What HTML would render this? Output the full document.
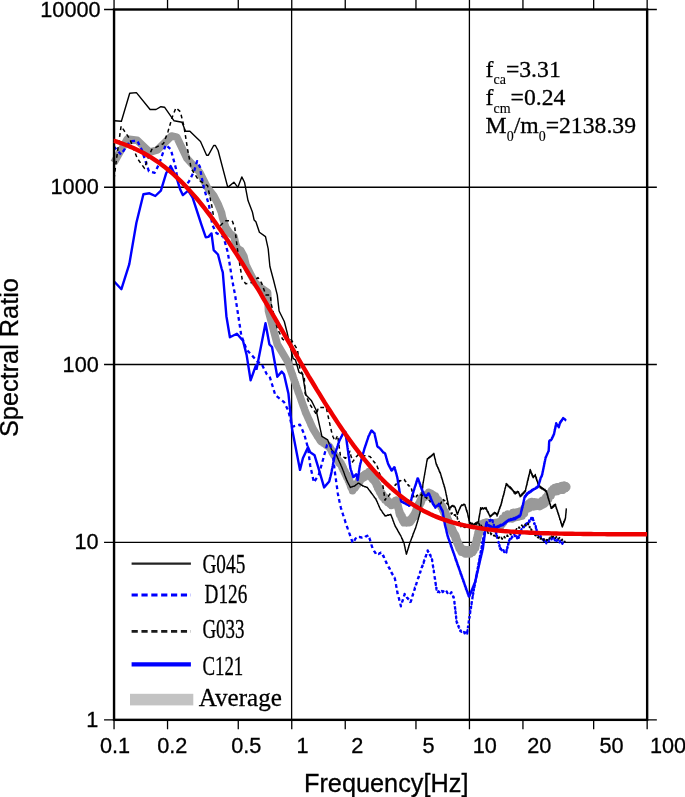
<!DOCTYPE html>
<html><head><meta charset="utf-8"><title>Spectral Ratio</title>
<style>html,body{margin:0;padding:0;background:#fff}svg{display:block}.h{font-family:"Liberation Sans",Arial,Helvetica,sans-serif;fill:#000;stroke:#000;stroke-width:0.3px}.t{font-family:"Liberation Serif","Times New Roman",Times,serif;fill:#000;stroke:#000;stroke-width:0.3px}</style></head><body>
<svg width="685" height="797" viewBox="0 0 685 797">
<rect width="685" height="797" fill="#fff"/>
<path d="M291.62 9.50 V719.85 M469.40 9.50 V719.85 M114.05 187.25 H647.15 M114.05 364.50 H647.15 M114.05 542.35 H647.15" stroke="#000" stroke-width="1.3" fill="none"/>
<path d="M114.05 719.85 V729.35 M114.05 9.50 V-0.50 M167.54 719.85 V729.35 M167.54 9.50 V-0.50 M238.26 719.85 V729.35 M238.26 9.50 V-0.50 M291.75 719.85 V729.35 M291.75 9.50 V-0.50 M345.24 719.85 V729.35 M345.24 9.50 V-0.50 M415.96 719.85 V729.35 M415.96 9.50 V-0.50 M469.45 719.85 V729.35 M469.45 9.50 V-0.50 M522.94 719.85 V729.35 M522.94 9.50 V-0.50 M593.66 719.85 V729.35 M593.66 9.50 V-0.50 M647.15 719.85 V729.35 M647.15 9.50 V-0.50 M114.05 9.50 H104.05 M647.15 9.50 H656.85 M114.05 187.25 H104.05 M647.15 187.25 H656.85 M114.05 364.50 H104.05 M647.15 364.50 H656.85 M114.05 542.35 H104.05 M647.15 542.35 H656.85 M114.05 719.85 H104.05 M647.15 719.85 H656.85" stroke="#000" stroke-width="1.3" fill="none"/>
<g fill="none" stroke-linejoin="round">
<path d="M114.0 162.6 L127.3 139.0 L137.2 140.3 L149.8 152.2 L157.6 149.8 L171.5 136.0 L176.8 137.1 L186.8 158.2 L199.6 172.2 L207.3 187.5 L213.6 195.5 L218.0 204.0 L221.5 212.6 L222.5 217.5 L225.8 227.5 L230.0 233.5 L234.0 236.5 L235.8 244.5 L237.5 248.5 L240.8 250.5 L243.8 256.0 L246.0 265.0 L251.0 275.2 L255.0 282.5 L261.0 288.0 L267.6 292.5 L268.5 311.0 L277.3 344.3 L287.8 361.9 L288.0 362.5 L288.2 363.0 L288.4 363.6 L288.6 364.2 L288.8 364.7 L289.0 365.3 L289.2 365.9 L289.4 366.5 L289.6 367.0 L289.8 367.6 L290.0 368.2 L290.2 368.7 L290.4 369.3 L290.6 369.9 L290.8 370.5 L291.0 371.0 L291.2 371.6 L291.4 372.1 L291.6 372.7 L291.8 373.3 L292.0 373.9 L292.2 374.4 L292.4 375.0 L292.6 375.5 L292.8 376.2 L293.0 376.7 L293.2 377.3 L293.4 377.8 L293.6 378.5 L293.8 378.9 L294.0 379.6 L294.2 380.1 L294.4 380.7 L294.6 381.2 L294.8 381.9 L295.0 382.4 L295.2 383.0 L295.4 383.5 L295.6 384.2 L295.8 384.6 L296.0 385.3 L296.2 385.8 L296.4 386.4 L296.6 386.9 L296.8 387.6 L297.0 388.1 L297.2 388.7 L297.4 389.2 L297.6 389.9 L297.8 390.4 L298.0 391.1 L298.2 391.5 L298.4 392.3 L298.6 392.7 L298.9 393.4 L299.1 393.8 L299.3 394.6 L299.5 394.9 L299.7 395.7 L299.9 396.1 L300.1 396.9 L300.3 397.3 L300.5 398.0 L300.7 398.4 L300.9 399.2 L301.1 399.5 L301.3 400.3 L301.5 400.7 L301.7 401.5 L301.9 401.8 L302.1 402.6 L302.3 403.0 L302.5 403.8 L302.7 404.1 L302.9 405.0 L303.1 405.3 L303.3 406.1 L303.6 406.4 L303.8 407.3 L304.0 407.6 L304.2 408.4 L304.4 408.7 L304.6 409.5 L304.8 409.9 L305.0 410.8 L305.2 411.0 L305.4 411.9 L305.6 412.2 L305.8 413.0 L306.1 413.3 L306.3 414.2 L306.6 414.4 L306.8 415.3 L307.1 415.5 L307.3 416.3 L307.6 416.6 L307.8 417.6 L308.1 417.7 L308.3 418.6 L308.6 418.9 L308.8 419.7 L309.1 419.9 L309.3 420.8 L309.6 421.0 L309.8 422.0 L310.1 422.1 L310.3 423.1 L310.6 423.2 L310.8 424.2 L311.1 424.4 L311.3 425.3 L311.6 425.6 L311.8 426.5 L312.1 426.6 L312.3 427.5 L312.6 427.7 L312.8 428.6 L313.1 428.8 L313.4 429.7 L313.8 429.8 L314.1 430.8 L314.4 430.9 L314.8 431.9 L315.1 432.1 L315.4 432.9 L315.8 433.1 L316.1 434.0 L316.4 434.0 L316.8 435.2 L317.1 435.1 L317.4 436.2 L317.7 436.3 L318.1 437.3 L318.4 437.2 L318.7 438.2 L319.1 438.4 L319.4 439.2 L319.7 439.3 L320.1 440.4 L320.4 440.5 L320.9 441.4 L321.4 441.1 L322.0 441.9 L322.5 441.8 L323.0 442.8 L323.5 442.5 L324.0 443.4 L324.5 442.9 L325.1 444.2 L325.6 443.8 L326.1 444.9 L326.6 444.5 L327.1 445.6 L327.6 445.0 L328.2 446.2 L328.7 445.8 L329.2 447.3 L329.5 446.5 L329.8 447.9 L330.1 447.4 L330.5 449.3 L330.8 448.8 L331.1 449.9 L331.4 449.7 L331.7 451.4 L332.0 450.8 L332.3 452.5 L332.7 451.5 L333.0 453.4 L333.3 452.8 L333.6 454.8 L334.0 453.4 L334.3 455.5 L334.7 454.8 L335.1 456.7 L335.4 455.7 L335.8 457.7 L336.2 456.7 L336.5 458.7 L336.9 457.9 L337.2 459.5 L337.6 458.3 L338.0 461.0 L338.3 459.8 L338.7 462.1 L339.1 460.8 L339.4 463.2 L339.8 461.4 L340.2 463.8 L340.5 462.8 L340.9 464.5 L341.2 463.3 L341.4 465.6 L341.7 464.4 L342.0 467.5 L342.3 465.7 L342.5 467.9 L342.8 466.5 L343.1 469.7 L343.3 467.7 L343.6 470.4 L343.9 469.1 L344.1 471.3 L344.4 470.3 L344.7 472.7 L345.0 471.2 L345.2 473.4 L345.5 472.6 L345.8 474.9 L346.0 473.5 L346.3 475.8 L346.6 474.5 L346.8 477.3 L347.1 475.0 L347.4 477.5 L347.7 476.8 L347.9 478.9 L348.2 477.1 L348.4 480.5 L348.7 478.9 L348.9 481.1 L349.1 479.7 L349.4 482.9 L349.6 480.6 L349.8 483.5 L350.1 481.8 L350.3 485.0 L350.5 483.4 L350.7 486.5 L351.0 484.8 L351.2 487.4 L351.4 486.1 L351.7 488.0 L351.9 486.4 L352.1 489.2 L352.4 487.7 L352.6 490.7 L353.0 487.7 L353.4 489.6 L353.7 487.3 L354.1 488.5 L354.5 485.8 L354.9 487.9 L355.2 484.7 L355.6 487.2 L356.0 484.6 L356.4 485.9 L356.8 483.7 L357.1 484.4 L357.5 482.8 L357.9 484.3 L358.3 481.1 L358.7 483.3 L359.0 480.6 L359.4 482.2 L359.8 479.2 L360.2 481.0 L360.5 478.4 L360.9 479.9 L361.3 478.0 L361.8 479.0 L362.3 476.3 L362.8 478.6 L363.2 475.5 L363.7 477.7 L364.2 475.4 L364.7 477.3 L365.2 474.1 L365.7 475.7 L366.2 473.5 L366.7 475.0 L367.1 473.3 L367.6 475.1 L368.1 472.6 L368.6 473.6 L369.0 471.7 L369.4 474.8 L369.8 473.6 L370.2 475.5 L370.6 474.4 L371.0 477.1 L371.4 475.5 L371.7 478.2 L372.1 476.2 L372.5 479.3 L372.9 476.6 L373.3 479.5 L373.7 478.3 L374.1 480.7 L374.5 479.4 L374.8 481.9 L375.0 480.6 L375.3 482.3 L375.6 480.6 L375.9 483.7 L376.1 482.1 L376.4 485.0 L376.7 483.5 L376.9 485.6 L377.2 483.9 L377.5 487.7 L377.7 484.9 L378.0 487.8 L378.3 486.8 L378.6 489.5 L378.8 487.1 L379.1 490.5 L379.4 488.5 L379.6 491.7 L379.9 490.0 L380.2 492.6 L380.4 491.1 L380.7 493.4 L381.0 492.4 L381.3 494.5 L381.5 492.5 L381.8 495.8 L382.2 493.8 L382.6 496.9 L383.0 494.4 L383.4 497.6 L383.8 496.1 L384.2 498.4 L384.6 497.0 L385.0 499.9 L385.4 497.2 L385.9 500.2 L386.3 498.8 L386.8 501.4 L387.2 499.4 L387.7 502.4 L388.1 500.6 L388.6 502.6 L389.0 501.5 L389.5 503.6 L389.9 502.1 L390.4 504.4 L390.8 503.5 L391.4 505.3 L392.0 502.8 L392.6 505.0 L393.2 502.1 L393.8 504.6 L394.3 502.0 L394.9 503.7 L395.5 500.7 L396.1 502.8 L396.7 500.1 L396.9 503.2 L397.0 501.5 L397.2 505.3 L397.3 502.6 L397.5 505.7 L397.6 504.6 L397.8 507.1 L397.9 504.8 L398.1 508.1 L398.2 506.0 L398.4 509.1 L398.5 507.2 L398.7 510.1 L398.8 509.1 L399.0 512.3 L399.1 509.7 L399.3 513.5 L399.4 510.8 L399.6 514.5 L399.9 512.1 L400.2 514.9 L400.4 513.5 L400.7 516.0 L401.0 514.3 L401.2 517.7 L401.5 515.9 L401.8 518.1 L402.1 516.2 L402.4 520.1 L402.6 517.8 L402.9 520.9 L403.2 518.5 L403.4 521.9 L403.7 520.1 L404.0 522.8 L404.6 520.9 L405.3 522.5 L405.9 520.4 L406.6 522.9 L407.2 520.5 L407.9 522.5 L408.5 520.7 L409.2 522.6 L409.8 521.0 L410.2 522.3 L410.5 519.2 L410.9 521.4 L411.3 518.7 L411.6 520.7 L412.0 517.9 L412.4 519.0 L412.7 516.6 L413.1 518.6 L413.5 515.5 L413.8 517.6 L414.2 514.4 L414.4 516.9 L414.7 513.8 L414.9 515.4 L415.2 512.4 L415.4 514.0 L415.7 511.3 L415.9 513.3 L416.2 509.6 L416.4 512.6 L416.6 509.2 L416.9 511.1 L417.1 508.4 L417.4 509.3 L417.6 506.7 L417.9 509.1 L418.1 506.0 L418.4 507.9 L418.6 504.0 L418.9 506.2 L419.2 503.1 L419.4 505.7 L419.7 502.4 L420.0 504.5 L420.2 500.8 L420.5 503.2 L420.8 499.6 L421.1 502.5 L421.4 498.4 L421.6 501.0 L421.9 498.2 L422.2 499.5 L422.4 497.1 L422.7 498.8 L423.0 495.3 L423.6 497.3 L424.2 494.8 L424.7 497.6 L425.3 494.6 L425.9 496.8 L426.5 494.3 L427.1 496.4 L427.6 493.9 L428.2 496.2 L428.8 492.3 L429.4 495.7 L430.0 493.6 L430.5 496.7 L431.1 493.3 L431.7 496.3 L432.3 494.1 L432.9 497.8 L433.4 494.8 L434.0 498.2 L434.6 495.7 L435.0 499.2 L435.4 496.0 L435.8 499.5 L436.2 497.2 L436.6 500.6 L437.0 498.9 L437.4 501.4 L437.7 500.0 L438.1 503.1 L438.5 499.9 L438.9 503.1 L439.3 501.3 L439.7 504.4 L440.1 502.9 L440.5 505.3 L440.8 503.8 L441.1 507.0 L441.3 505.2 L441.6 507.4 L441.9 505.7 L442.2 508.3 L442.4 506.6 L442.7 510.1 L443.0 507.5 L443.3 510.7 L443.5 509.3 L443.8 512.3 L444.1 510.4 L444.4 513.4 L444.6 511.5 L444.9 514.7 L445.2 512.0 L445.5 516.0 L445.7 512.8 L446.0 516.7 L446.3 514.6 L446.5 518.3 L446.7 515.4 L447.0 519.1 L447.2 517.0 L447.4 519.9 L447.6 518.6 L447.8 521.7 L448.1 519.7 L448.3 522.8 L448.5 520.3 L448.7 524.3 L448.9 521.2 L449.2 525.5 L449.4 523.2 L449.6 526.0 L449.8 523.8 L450.0 527.0 L450.3 525.1 L450.5 528.2 L450.7 526.2 L451.0 528.9 L451.3 527.4 L451.6 530.6 L451.9 528.7 L452.2 531.6 L452.5 529.2 L452.8 533.2 L453.0 530.7 L453.3 534.2 L453.6 532.0 L453.9 534.8 L454.2 533.6 L454.5 536.0 L454.8 533.9 L455.1 537.9 L455.3 534.7 L455.5 538.6 L455.7 535.6 L456.0 539.6 L456.2 536.9 L456.4 540.7 L456.6 538.2 L456.8 542.6 L457.0 539.9 L457.2 542.6 L457.4 540.6 L457.6 544.2 L457.9 542.1 L458.1 544.6 L458.3 543.1 L458.5 546.4 L458.8 544.2 L459.1 548.1 L459.4 545.1 L459.7 549.0 L460.0 545.7 L460.3 550.1 L460.6 547.4 L460.9 551.3 L461.2 548.2 L461.5 552.2 L462.1 549.0 L462.8 552.3 L463.4 549.4 L464.1 553.1 L464.7 549.4 L465.4 553.8 L466.0 549.9 L466.6 553.9 L467.2 549.8 L467.8 553.6 L468.4 550.4 L469.0 553.0 L469.6 549.8 L470.2 553.9 L470.8 549.9 L471.4 552.6 L472.0 549.3 L472.4 552.6 L472.7 548.8 L473.1 550.8 L473.4 547.6 L473.8 550.8 L474.1 546.6 L474.4 549.1 L474.8 545.2 L475.1 547.5 L475.5 544.3 L475.6 547.8 L475.8 542.8 L475.9 545.7 L476.1 541.5 L476.2 544.8 L476.3 541.1 L476.5 542.9 L476.6 538.8 L476.8 541.8 L476.9 538.9 L477.0 541.5 L477.2 536.9 L477.3 539.6 L477.4 535.7 L477.6 538.9 L477.7 535.0 L477.9 537.6 L478.0 532.9 L478.2 536.7 L478.4 532.5 L478.6 535.1 L478.8 531.3 L479.0 533.8 L479.2 530.2 L479.4 533.0 L479.6 527.8 L479.8 531.1 L480.0 527.7 L480.2 530.9 L480.4 525.7 L480.6 529.5 L480.8 525.6 L481.0 528.4 L481.6 523.8 L482.2 527.1 L482.8 523.8 L483.5 527.6 L484.1 522.8 L484.7 526.2 L485.3 522.8 L485.9 526.1 L486.6 522.2 L487.2 526.7 L487.9 522.4 L488.5 527.4 L489.1 523.1 L489.8 526.7 L490.4 523.3 L491.1 526.6 L491.7 524.1 L492.4 527.8 L493.0 523.8 L493.6 527.8 L494.2 523.7 L494.8 527.4 L495.4 522.5 L496.0 526.4 L496.6 523.4 L497.1 526.3 L497.7 522.4 L498.3 525.4 L498.9 522.6 L499.5 525.0 L500.1 521.5 L500.7 526.4 L501.1 521.6 L501.4 523.8 L501.8 519.7 L502.1 524.3 L502.5 518.2 L502.8 523.0 L503.2 518.5 L503.5 522.5 L503.9 517.9 L504.2 521.2 L504.6 517.0 L504.9 519.7 L505.3 515.2 L506.0 519.1 L506.6 515.7 L507.3 518.7 L507.9 514.2 L508.6 519.0 L509.2 514.6 L509.9 518.4 L510.5 514.0 L511.1 518.1 L511.7 513.8 L512.3 518.9 L513.0 512.5 L513.6 516.6 L514.2 512.4 L514.8 517.8 L515.4 513.0 L516.0 516.4 L516.6 512.1 L517.2 517.3 L517.8 512.4 L518.4 517.1 L519.0 511.5 L519.7 515.4 L520.3 511.0 L520.9 515.0 L521.5 512.4 L522.1 516.1 L522.5 512.0 L522.9 514.5 L523.2 510.8 L523.6 513.7 L524.0 508.4 L524.4 513.5 L524.8 509.0 L525.2 510.8 L525.6 506.4 L525.9 509.8 L526.3 506.5 L526.7 508.9 L527.2 506.0 L527.6 507.9 L528.1 504.1 L528.5 508.6 L529.0 503.3 L529.5 508.0 L529.9 502.5 L530.4 506.3 L530.8 501.8 L531.3 506.6 L531.9 501.5 L532.6 505.3 L533.2 502.7 L533.9 506.8 L534.5 501.9 L535.1 505.8 L535.8 502.0 L536.4 506.3 L537.1 502.3 L537.7 505.5 L538.4 502.7 L539.0 506.3 L539.6 502.8 L540.1 506.6 L540.7 501.8 L541.3 505.6 L541.9 500.7 L542.5 505.2 L543.0 500.1 L543.6 504.6 L544.0 500.2 L544.4 504.0 L544.9 499.4 L545.3 502.9 L545.7 497.2 L546.1 501.8 L546.5 497.7 L546.9 499.4 L547.4 495.3 L547.8 499.1 L548.2 495.1 L548.6 499.1 L549.0 494.8 L549.4 497.4 L549.8 493.2 L550.2 495.7 L550.6 492.3 L551.0 495.8 L551.5 490.5 L551.9 493.7 L552.3 490.3 L552.7 492.9 L553.1 488.9 L553.5 491.9 L553.9 489.3 L554.3 491.6 L554.9 487.5 L555.5 491.1 L556.1 488.2 L556.7 491.6 L557.3 486.7 L557.9 491.4 L558.5 487.3 L559.1 490.3 L559.7 487.1 L560.4 490.2 L561.0 486.6 L561.6 489.5 L562.2 485.5 L562.8 490.3 L563.4 485.6 L564.0 488.5 L564.6 485.2 L565.2 488.8 L565.8 486.9" stroke="#999" stroke-width="7.6" stroke-linejoin="round"/>
<path d="M561 487.2 L565.6 486.9" stroke="#999" stroke-width="10" stroke-linecap="round"/>
<path d="M114.4 120.8 L121.4 121.3 L129.7 93.2 L136.4 92.6 L150.1 109.5 L156.0 109.5 L160.9 106.7 L164.5 107.2 L174.1 120.8 L182.0 122.2 L185.5 131.3 L189.9 131.3 L200.5 141.5 L206.6 155.2 L208.4 155.2 L213.7 145.5 L215.4 145.5 L218.1 150.5 L227.8 187.4 L233.9 182.2 L237.8 187.4 L241.8 176.9 L244.5 182.2 L248.0 200.6 L252.4 212.0 L254.1 219.9 L255.9 221.7 L259.4 232.2 L265.5 236.6 L268.2 248.9 L269.9 266.5 L273.5 280.0 L277.3 295.1 L279.1 311.0 L284.3 321.5 L287.0 332.0 L290.5 347.8 L293.1 358.4 L295.5 360.0 L299.0 372.3 L302.5 374.1 L306.0 395.1 L311.3 400.4 L316.1 410.0 L321.9 436.3 L327.7 439.9 L328.0 440.7 L328.3 441.5 L328.6 442.3 L328.9 443.1 L329.2 443.9 L329.5 444.6 L329.9 445.4 L330.2 446.2 L330.5 447.0 L330.8 447.8 L331.1 448.6 L331.4 449.4 L332.0 450.1 L332.5 450.7 L333.1 451.4 L333.7 452.0 L334.2 452.7 L334.8 453.3 L335.4 454.0 L335.9 454.6 L336.5 455.3 L336.8 456.0 L337.2 456.9 L337.5 457.6 L337.9 458.4 L338.2 459.1 L338.5 460.0 L338.9 460.7 L339.2 461.5 L339.6 462.2 L339.9 463.0 L340.3 463.7 L340.6 464.6 L340.9 465.3 L341.3 466.1 L341.6 466.8 L342.0 467.7 L342.3 468.4 L342.6 469.2 L342.9 469.9 L343.2 470.8 L343.5 471.4 L343.8 472.3 L344.1 473.0 L344.4 473.9 L344.6 474.6 L344.9 475.5 L345.2 476.1 L345.5 477.1 L345.8 477.7 L346.1 478.7 L346.4 479.2 L346.7 480.2 L347.1 480.7 L347.4 481.7 L347.8 482.2 L348.2 483.1 L348.5 483.7 L348.9 484.6 L349.3 485.1 L349.7 486.1 L350.0 486.6 L350.4 487.5 L351.3 487.0 L352.1 486.9 L353.0 486.4 L353.8 486.4 L354.7 485.8 L355.4 485.4 L356.2 484.6 L356.9 484.3 L357.7 483.4 L358.4 483.1 L359.1 483.3 L359.9 484.1 L360.6 484.2 L361.3 485.1 L362.1 485.2 L362.8 486.1 L363.7 486.0 L364.6 486.7 L365.4 486.6 L366.3 487.3 L367.2 487.3 L367.7 488.2 L368.2 488.5 L368.6 489.6 L369.1 489.8 L369.6 490.8 L370.1 491.0 L370.6 492.2 L371.1 492.3 L371.5 493.4 L372.0 493.6 L372.5 494.7 L373.0 495.0 L373.5 496.0 L374.0 496.3 L374.4 497.4 L374.9 497.7 L375.4 498.7 L375.9 498.8 L376.2 500.0 L376.6 500.5 L376.9 501.7 L377.3 501.9 L377.6 503.2 L377.9 503.5 L378.3 504.6 L378.6 505.0 L378.9 506.2 L379.3 506.6 L379.6 507.8 L380.0 508.1 L380.3 509.3 L380.8 509.6 L381.2 510.6 L381.7 510.7 L382.2 511.9 L382.6 512.3 L383.1 513.4 L383.6 513.6 L384.1 514.7 L384.5 514.8 L385.0 516.1 L385.8 515.6 L386.7 515.7 L387.5 515.0 L388.3 515.4 L389.1 514.7 L390.0 514.9 L390.8 514.3 L391.1 515.6 L391.4 515.7 L391.7 517.2 L392.0 517.2 L392.3 518.7 L392.6 518.7 L392.9 520.3 L393.1 520.4 L393.4 521.7 L393.7 521.9 L394.0 523.3 L394.3 523.6 L394.6 524.8 L394.9 524.9 L395.2 526.3 L395.6 526.5 L396.0 527.9 L396.5 528.0 L396.9 529.3 L397.3 529.3 L397.7 530.8 L398.1 530.9 L398.6 532.3 L399.0 532.5 L399.4 533.8 L399.8 534.0 L400.3 535.1 L400.7 535.5 L401.1 536.6 L401.4 536.9 L401.7 538.3 L402.1 538.3 L402.4 539.8 L402.7 539.6 L403.0 541.3 L403.4 541.3 L403.7 542.6 L404.0 542.7 L404.2 544.2 L404.3 544.2 L404.5 545.9 L404.7 545.8 L404.9 547.3 L405.0 547.6 L405.2 549.1 L405.4 549.3 L405.5 550.5 L405.7 550.8 L405.9 552.2 L406.1 552.3 L406.2 553.9 L406.4 554.2 L406.6 553.8 L406.9 552.5 L407.1 552.2 L407.4 550.8 L407.6 550.7 L407.9 549.2 L408.1 549.1 L408.3 547.6 L408.6 547.6 L408.8 545.7 L409.1 545.9 L409.3 544.3 L409.6 544.2 L409.8 542.6 L410.1 542.4 L410.4 541.1 L410.7 541.1 L411.0 539.7 L411.3 539.4 L411.6 537.9 L411.9 537.9 L412.2 536.4 L412.5 536.6 L412.8 534.9 L413.0 534.8 L413.3 533.2 L413.6 533.3 L413.9 532.0 L414.2 531.9 L414.5 530.4 L414.8 530.2 L415.1 528.6 L415.4 528.8 L415.7 527.4 L415.9 527.2 L416.2 525.7 L416.4 525.7 L416.6 524.2 L416.8 524.2 L417.1 522.8 L417.3 522.5 L417.5 521.1 L417.7 521.3 L418.0 519.7 L418.2 519.7 L418.4 518.1 L418.6 518.0 L418.9 516.5 L419.1 516.5 L419.3 514.8 L419.5 514.9 L419.8 513.5 L420.0 513.3 L420.1 511.9 L420.2 511.9 L420.2 510.1 L420.3 510.4 L420.4 508.5 L420.5 508.4 L420.6 506.8 L420.7 507.0 L420.8 505.2 L420.8 505.3 L420.9 503.7 L421.0 503.7 L421.1 501.9 L421.2 502.0 L421.2 500.4 L421.3 500.4 L421.4 498.6 L421.5 498.9 L421.6 497.0 L421.7 497.3 L421.8 495.6 L421.8 495.5 L421.9 493.9 L422.0 493.9 L422.1 492.3 L422.2 492.4 L422.2 490.5 L422.3 490.7 L422.4 488.9 L422.5 488.9 L422.6 487.5 L422.7 487.7 L422.8 486.0 L422.8 485.8 L422.9 484.4 L423.0 484.1 L423.1 482.4 L423.3 482.8 L423.4 480.9 L423.6 480.9 L423.7 479.5 L423.8 479.3 L424.0 477.7 L424.1 477.9 L424.2 476.2 L424.4 476.2 L424.5 474.7 L424.7 474.6 L424.8 472.8 L424.9 473.1 L425.1 471.5 L425.2 471.4 L425.4 469.7 L425.5 469.7 L425.6 468.0 L425.8 468.2 L425.9 466.5 L426.1 466.6 L426.2 464.8 L426.3 465.2 L426.5 463.3 L426.6 463.3 L426.7 461.8 L426.9 461.6 L427.0 460.1 L427.2 460.4 L427.3 458.7 L428.0 458.9 L428.6 457.5 L429.3 457.9 L429.9 456.4 L430.6 457.1 L431.3 455.4 L431.9 455.9 L432.6 454.3 L433.2 454.8 L433.9 453.3 L434.1 455.2 L434.3 454.9 L434.4 456.9 L434.6 456.7 L434.8 458.4 L435.0 458.2 L435.2 460.0 L435.4 459.5 L435.6 461.6 L435.7 461.6 L435.9 463.1 L436.1 462.8 L436.4 464.8 L436.8 464.4 L437.1 466.4 L437.5 466.3 L437.8 468.0 L438.1 467.5 L438.5 469.4 L438.8 469.0 L439.1 471.1 L439.5 470.9 L439.8 472.7 L440.2 472.2 L440.5 474.0 L440.7 473.8 L441.0 475.7 L441.2 475.6 L441.4 477.3 L441.7 477.1 L441.9 478.8 L442.1 478.5 L442.4 480.1 L442.6 480.0 L442.8 481.8 L443.0 481.7 L443.3 483.6 L443.5 483.3 L443.7 484.6 L444.0 484.6 L444.2 486.6 L444.4 486.1 L444.7 488.1 L444.9 487.7 L445.1 489.6 L445.2 489.3 L445.4 491.0 L445.6 490.8 L445.7 492.4 L445.9 492.6 L446.1 494.3 L446.2 494.1 L446.4 495.9 L446.6 495.4 L446.7 497.3 L446.9 497.0 L447.0 499.1 L447.2 498.5 L447.4 500.3 L447.5 500.4 L447.7 502.0 L447.9 501.8 L448.0 503.5 L448.2 503.6 L448.4 505.2 L448.5 504.7 L448.7 506.7 L448.9 506.5 L449.0 508.3 L449.2 508.1 L449.8 508.7 L450.4 507.0 L451.0 507.5 L451.6 505.8 L452.2 506.3 L452.9 505.3 L453.6 506.8 L454.4 506.1 L455.1 507.6 L455.3 507.4 L455.6 509.5 L455.8 509.0 L456.1 510.9 L456.3 510.5 L456.6 512.4 L456.8 512.2 L457.1 514.2 L457.3 513.9 L457.6 514.4 L458.0 512.2 L458.3 512.7 L458.6 510.8 L458.9 510.9 L459.3 509.2 L459.6 509.3 L459.9 507.7 L460.2 508.1 L460.6 506.1 L460.9 506.4 L461.8 504.8 L462.8 505.5 L463.7 504.1 L464.6 504.5 L464.9 504.4 L465.1 506.2 L465.4 506.0 L465.7 507.9 L465.9 507.4 L466.2 509.8 L466.4 509.2 L466.7 511.3 L467.0 510.6 L467.2 512.7 L467.5 512.6 L467.7 514.2 L467.8 514.1 L468.0 516.1 L468.2 515.6 L468.3 517.4 L468.5 516.9 L468.7 518.9 L468.9 518.5 L469.0 520.7 L469.2 520.3 L469.4 522.4 L469.5 521.9 L469.7 524.0 L470.6 522.6 L471.5 524.4 L472.3 523.4 L473.2 525.3 L474.1 523.9 L474.8 525.0 L475.5 522.9 L476.2 524.1 L477.0 522.0 L477.7 523.2 L478.4 521.3 L478.5 521.7 L478.7 519.4 L478.8 519.9 L478.9 517.9 L479.1 518.1 L479.2 515.9 L479.4 516.6 L479.5 514.6 L479.6 515.2 L479.8 513.1 L479.9 513.6 L480.1 511.5 L480.2 511.4 L480.3 509.7 L480.5 510.0 L480.6 507.7 L481.5 509.4 L482.4 507.7 L483.4 509.1 L484.3 507.8 L485.2 508.9 L486.1 507.5 L486.5 509.7 L486.8 509.3 L487.2 511.3 L487.6 510.9 L487.9 512.6 L488.3 511.8 L488.6 513.9 L489.0 513.8 L489.4 515.4 L489.7 515.2 L490.1 517.0 L490.7 515.4 L491.4 516.0 L492.0 514.4 L492.6 514.9 L493.2 513.2 L493.9 514.0 L494.5 512.3 L495.1 513.2 L495.6 512.8 L496.1 514.3 L496.6 513.7 L497.1 516.0 L497.4 513.7 L497.7 514.3 L498.0 512.3 L498.2 513.2 L498.5 510.9 L498.8 511.5 L499.1 509.1 L499.4 509.7 L499.7 507.3 L500.0 508.2 L500.2 506.1 L500.5 506.7 L500.8 504.6 L501.1 505.3 L501.3 502.8 L501.5 503.5 L501.7 501.3 L501.9 502.2 L502.1 499.4 L502.3 500.5 L502.5 498.1 L502.7 498.6 L502.9 496.5 L503.1 496.8 L503.3 495.1 L503.5 495.8 L503.8 493.5 L504.0 494.1 L504.2 491.5 L504.4 492.5 L504.6 490.3 L504.8 490.5 L505.0 488.2 L505.2 488.7 L505.4 487.1 L505.6 487.3 L505.8 485.4 L506.0 485.6 L506.2 483.5 L506.9 485.2 L507.5 484.3 L508.2 486.6 L508.9 485.9 L509.5 487.8 L510.2 486.8 L510.8 488.7 L511.3 487.9 L511.9 489.8 L512.4 489.2 L513.0 491.1 L513.5 490.8 L514.1 493.0 L514.6 491.7 L515.2 494.0 L516.0 491.9 L516.7 493.3 L517.5 491.3 L518.2 492.0 L518.5 491.7 L518.9 493.4 L519.2 493.3 L519.5 495.2 L519.9 495.0 L520.2 496.8 L520.8 495.0 L521.5 495.9 L522.1 493.4 L522.7 494.8 L523.3 492.3 L524.0 493.3 L524.6 490.9 L525.2 491.8 L525.4 490.1 L525.6 490.7 L525.8 488.1 L525.9 488.7 L526.1 486.7 L526.3 487.2 L526.5 485.1 L526.7 485.7 L526.9 483.6 L527.1 484.4 L527.2 481.7 L527.4 482.7 L527.6 480.4 L527.8 480.9 L528.0 478.6 L528.2 479.9 L528.3 477.5 L528.5 478.1 L528.7 475.6 L528.9 476.5 L529.1 474.5 L529.3 474.9 L529.5 472.8 L529.6 473.1 L529.8 471.0 L530.0 471.8 L530.2 469.4 L530.5 471.9 L530.9 470.9 L531.2 473.3 L531.5 472.9 L531.9 475.1 L532.2 474.0 L532.5 476.7 L532.9 475.7 L533.2 477.7 L533.9 476.1 L534.6 476.4 L535.3 474.5 L535.6 476.9 L535.8 476.4 L536.1 478.8 L536.4 477.5 L536.7 480.4 L536.9 479.5 L537.2 481.6 L537.5 481.3 L537.8 483.6 L538.0 482.6 L538.3 484.9 L538.8 484.0 L539.3 486.6 L539.8 485.9 L540.3 488.0 L541.0 486.8 L541.6 488.9 L542.3 487.8 L543.0 489.6 L543.6 488.6 L544.3 490.5 L545.0 489.4 L545.6 491.4 L546.3 490.7 L546.5 492.8 L546.8 492.2 L547.0 494.4 L547.2 493.4 L547.4 495.7 L547.7 495.0 L547.9 497.6 L548.1 496.6 L548.3 499.0 L548.6 498.4 L548.8 500.5 L549.0 499.9 L549.3 502.0 L549.5 501.7 L549.7 503.7 L549.9 503.2 L550.2 505.2 L550.4 504.5 L550.6 506.7 L550.8 506.3 L551.1 508.4 L551.3 507.4 L551.9 508.4 L552.4 506.4 L553.0 507.5 L553.6 505.1 L554.2 506.4 L554.7 504.4 L555.3 504.9 L555.5 504.2 L555.8 506.6 L556.0 506.4 L556.3 508.6 L556.5 507.8 L556.8 509.7 L557.0 509.3 L557.3 511.3 L557.5 510.6 L557.8 512.9 L558.0 512.3 L558.3 514.5 L558.5 513.6 L558.8 515.8 L559.0 515.4 L559.3 517.5 L559.5 517.3 L559.8 519.4 L560.0 518.7 L560.3 520.5 L560.5 520.1 L560.8 522.7 L561.0 521.6 L561.3 524.0 L561.5 523.1 L561.8 525.9 L562.0 525.1 L562.3 527.0 L562.6 524.5 L562.9 525.8 L563.2 523.5 L563.5 524.1 L563.8 521.4 L564.2 522.4 L564.5 519.9 L564.8 520.8 L565.1 518.6 L565.4 518.9 L565.5 517.1 L565.6 517.6 L565.6 515.4 L565.7 515.9 L565.8 513.6 L565.9 514.1 L566.0 511.5 L566.1 512.4 L566.1 510.2 L566.2 510.7 L566.3 508.7 L566.4 508.4" stroke="#000" stroke-width="1.4"/>
<path d="M113.8 146.5 L121.1 154.5 L129.9 141.4 L137.2 140.7 L141.6 149.4 L148.9 171.3 L154.7 172.8 L159.1 164.0 L165.7 145.0 L170.8 149.4 L175.9 168.4 L176.6 174.2 L180.0 183.0 L185.0 186.0 L189.0 181.5 L194.1 171.3 L197.1 161.1 L200.0 166.9 L201.2 175.0 L203.8 187.5 L208.9 205.0 L212.4 225.0 L216.4 233.1 L223.4 236.6 L227.8 252.4 L232.2 280.0 L235.1 295.1 L241.3 335.5 L246.6 349.6 L258.0 362.0 L261.5 363.7 L266.8 374.2 L270.0 377.6 L275.3 395.1 L284.1 402.2 L288.4 410.9 L292.0 426.8 L300.0 424.6 L304.4 434.8 L308.0 448.0 L310.2 465.5 L313.9 482.3 L319.0 474.2 L323.4 458.2 L327.0 445.0 L329.9 443.6 L330.1 444.4 L330.3 445.2 L330.6 446.0 L330.8 446.7 L331.0 447.5 L331.2 448.3 L331.5 449.1 L331.7 449.9 L331.9 450.7 L332.1 451.5 L332.4 452.2 L332.6 453.0 L332.8 453.8 L332.9 454.6 L333.0 455.4 L333.1 456.3 L333.2 457.1 L333.3 458.0 L333.4 458.7 L333.5 459.6 L333.6 460.4 L333.7 461.2 L333.8 462.0 L333.9 462.9 L333.9 463.7 L334.0 464.5 L334.1 465.3 L334.2 466.2 L334.3 467.0 L334.4 467.9 L334.5 468.6 L334.6 469.5 L334.7 470.3 L334.8 471.2 L334.9 472.0 L335.0 472.8 L335.1 473.6 L335.2 474.4 L335.3 475.2 L335.4 476.1 L335.6 476.8 L335.7 477.7 L335.8 478.4 L335.9 479.3 L336.0 480.1 L336.1 480.9 L336.2 481.7 L336.3 482.6 L336.4 483.3 L336.6 484.2 L336.7 484.9 L336.8 485.8 L336.9 486.5 L337.0 487.4 L337.1 488.2 L337.2 489.0 L337.3 489.8 L337.4 490.7 L337.6 491.4 L337.7 492.3 L337.8 493.0 L337.9 493.9 L338.0 494.6 L338.2 495.5 L338.3 496.2 L338.5 497.1 L338.7 497.8 L338.9 498.7 L339.0 499.4 L339.2 500.2 L339.4 500.9 L339.5 501.8 L339.7 502.5 L339.9 503.4 L340.0 504.0 L340.2 504.9 L340.4 505.6 L340.6 506.5 L340.7 507.2 L340.9 508.0 L341.2 508.7 L341.4 509.7 L341.7 510.3 L341.9 511.3 L342.2 511.9 L342.4 512.8 L342.7 513.5 L343.0 514.4 L343.2 515.1 L343.5 516.0 L343.7 516.7 L344.0 517.6 L344.2 518.3 L344.5 519.2 L344.8 519.9 L345.0 520.8 L345.3 521.4 L345.5 522.4 L345.8 523.0 L346.0 524.0 L346.3 524.6 L346.6 525.6 L346.8 526.1 L347.1 527.1 L347.4 527.6 L347.7 528.6 L347.9 529.2 L348.2 530.2 L348.5 530.8 L348.7 531.7 L349.0 532.2 L349.3 533.2 L349.6 533.8 L349.8 534.7 L350.1 535.3 L350.4 536.3 L350.6 536.9 L350.9 537.8 L351.2 538.4 L351.4 539.3 L351.7 539.9 L352.0 540.9 L352.3 541.4 L352.5 542.4 L352.8 543.0 L353.2 542.5 L353.7 541.6 L354.1 541.0 L354.6 540.0 L355.0 539.6 L355.5 538.6 L355.9 538.1 L356.4 537.1 L356.8 536.6 L357.6 536.5 L358.4 536.9 L359.3 536.9 L360.1 537.3 L360.9 537.2 L361.8 537.6 L362.6 537.4 L363.4 537.9 L364.1 537.3 L364.9 537.3 L365.6 536.5 L366.4 536.4 L367.1 535.7 L367.9 535.7 L368.6 535.1 L368.8 536.1 L369.1 536.5 L369.3 537.6 L369.5 538.1 L369.7 539.2 L370.0 539.6 L370.2 540.8 L370.4 541.1 L370.7 542.3 L370.9 542.7 L371.1 543.9 L371.4 544.2 L371.6 545.4 L371.8 545.8 L372.0 546.9 L372.3 547.3 L372.5 548.4 L372.9 548.8 L373.4 550.0 L373.8 550.4 L374.3 551.4 L374.7 551.7 L375.2 552.9 L375.6 553.1 L376.1 554.4 L376.5 554.8 L377.2 554.7 L378.0 553.9 L378.7 554.0 L379.5 553.2 L380.2 553.3 L381.0 552.4 L381.7 552.5 L382.0 552.7 L382.4 553.9 L382.7 554.4 L383.0 555.6 L383.4 555.6 L383.7 557.1 L384.0 557.2 L384.4 558.6 L384.7 558.6 L385.0 559.9 L385.3 560.1 L385.7 561.5 L386.0 561.6 L386.3 562.9 L386.7 563.1 L387.0 564.3 L387.4 564.6 L387.8 565.7 L388.2 566.0 L388.6 567.2 L389.0 567.3 L389.4 568.6 L389.8 568.7 L390.2 570.2 L390.6 570.2 L390.9 571.7 L391.3 571.6 L391.7 573.1 L392.1 573.3 L392.5 574.6 L392.9 574.7 L393.3 575.9 L393.7 576.0 L394.1 577.4 L394.5 577.5 L394.9 578.9 L395.0 579.0 L395.2 580.4 L395.3 580.7 L395.5 582.1 L395.6 582.2 L395.8 583.7 L395.9 583.9 L396.1 585.2 L396.2 585.4 L396.3 587.0 L396.5 587.1 L396.6 588.6 L396.8 588.5 L396.9 590.2 L397.1 590.2 L397.2 591.6 L397.4 591.8 L397.5 593.4 L397.7 593.6 L397.9 594.9 L398.1 595.2 L398.4 596.6 L398.6 596.8 L398.8 598.2 L399.0 598.3 L399.2 599.7 L399.4 600.2 L399.6 601.4 L399.8 601.8 L400.0 603.0 L400.3 603.2 L400.5 604.9 L400.7 605.1 L400.9 606.4 L401.1 605.0 L401.4 604.8 L401.6 603.4 L401.9 603.3 L402.1 601.8 L402.4 601.7 L402.6 600.3 L402.9 600.1 L403.1 598.8 L403.4 598.6 L403.6 597.0 L403.9 597.0 L404.1 595.7 L404.4 595.3 L404.6 594.0 L405.1 595.4 L405.6 595.2 L406.1 596.6 L406.6 596.5 L407.1 598.0 L407.6 597.9 L408.1 599.2 L408.6 599.2 L409.1 600.7 L409.6 600.5 L410.1 602.0 L410.6 601.8 L410.8 601.7 L411.1 600.3 L411.3 600.3 L411.6 598.9 L411.8 598.7 L412.0 597.2 L412.3 597.3 L412.5 595.4 L412.8 595.5 L413.0 593.9 L413.2 594.1 L413.5 592.6 L413.7 592.5 L414.0 591.1 L414.2 591.1 L414.5 589.3 L414.7 589.5 L414.9 587.7 L415.2 587.9 L415.4 586.2 L415.7 586.3 L415.9 584.9 L416.2 584.7 L416.4 583.3 L416.7 583.0 L417.0 581.4 L417.2 581.4 L417.5 580.1 L417.8 579.8 L418.0 578.2 L418.3 578.3 L418.5 577.0 L418.8 577.0 L419.1 575.4 L419.3 575.4 L419.6 573.6 L419.9 573.8 L420.1 571.9 L420.4 572.1 L420.7 570.3 L420.9 570.3 L421.2 568.8 L421.5 569.0 L421.7 567.3 L422.0 567.3 L422.3 565.7 L422.6 566.1 L422.8 564.5 L423.1 564.3 L423.4 562.7 L423.6 563.0 L423.9 561.3 L424.2 561.2 L424.4 559.8 L424.7 559.8 L425.0 558.0 L425.3 558.2 L425.5 556.7 L425.8 556.7 L426.1 555.1 L426.3 555.1 L426.6 553.7 L426.9 553.6 L427.2 551.8 L427.4 552.1 L427.7 550.3 L428.1 551.9 L428.6 551.8 L429.0 553.7 L429.5 553.3 L429.9 555.0 L430.4 554.9 L430.8 556.6 L431.3 556.1 L431.7 557.8 L431.8 558.0 L431.9 559.7 L432.1 559.2 L432.2 561.2 L432.3 561.0 L432.4 562.8 L432.5 562.7 L432.7 564.2 L432.8 564.3 L432.9 566.0 L433.0 565.9 L433.2 567.4 L433.3 567.3 L433.4 569.3 L433.5 569.1 L433.6 570.8 L433.8 570.6 L433.9 572.4 L434.0 572.1 L434.1 573.8 L434.2 573.9 L434.4 575.3 L434.5 575.3 L434.6 577.0 L434.7 577.1 L434.8 578.6 L435.0 578.6 L435.1 580.4 L435.2 580.3 L435.3 582.1 L435.4 581.7 L435.6 583.5 L435.7 583.3 L435.8 585.2 L435.9 584.7 L436.1 586.6 L436.2 586.5 L436.3 588.3 L436.4 587.9 L436.5 589.7 L436.7 589.5 L436.8 591.6 L436.9 591.2 L437.7 592.1 L438.5 591.3 L439.4 592.3 L440.2 591.1 L441.0 592.4 L441.9 591.0 L442.7 592.1 L443.5 591.3 L444.3 592.2 L445.1 591.6 L445.9 592.7 L446.7 591.5 L447.4 593.1 L448.2 592.1 L449.0 593.3 L449.8 592.3 L450.6 593.4 L451.4 592.3 L451.8 594.1 L452.1 594.2 L452.5 595.9 L452.9 595.5 L453.3 597.2 L453.6 596.9 L454.0 598.8 L454.1 598.7 L454.2 600.3 L454.3 600.1 L454.4 602.0 L454.4 601.9 L454.5 603.7 L454.6 603.1 L454.7 605.2 L454.8 605.0 L454.9 606.7 L455.0 606.8 L455.1 608.6 L455.2 608.5 L455.3 610.4 L455.3 609.7 L455.4 611.6 L455.5 611.3 L455.6 613.4 L455.7 613.0 L455.8 615.2 L455.9 614.9 L456.0 616.8 L456.1 616.4 L456.2 618.5 L456.2 618.2 L456.3 620.1 L456.4 619.5 L456.5 621.7 L456.6 621.3 L456.9 623.0 L457.3 622.9 L457.6 624.7 L457.9 624.3 L458.3 626.4 L458.6 625.9 L458.9 627.7 L459.3 627.4 L459.6 629.4 L459.9 629.2 L460.3 631.1 L460.6 630.4 L461.4 631.8 L462.2 630.9 L463.0 632.5 L463.9 631.9 L464.7 633.4 L465.5 632.4 L466.3 634.0 L467.1 633.0 L467.2 633.5 L467.3 631.6 L467.4 631.7 L467.6 630.2 L467.7 630.4 L467.8 628.2 L467.9 628.7 L468.0 626.6 L468.1 627.1 L468.2 625.3 L468.4 625.5 L468.5 623.3 L468.6 623.7 L468.7 621.9 L468.8 622.2 L468.9 620.2 L469.0 620.7 L469.2 618.9 L469.3 619.1 L469.4 617.1 L469.5 617.7 L469.6 615.7 L469.7 616.2 L469.8 614.2 L470.0 614.3 L470.1 612.6 L470.2 612.6 L470.3 610.6 L470.4 611.3 L470.6 609.4 L470.7 609.4 L470.8 607.6 L471.0 608.1 L471.1 605.8 L471.2 606.5 L471.3 604.3 L471.5 604.5 L471.6 602.8 L471.7 602.9 L471.9 601.1 L472.0 601.6 L472.1 599.7 L472.3 599.8 L472.4 597.7 L472.5 598.0 L472.7 596.1 L472.8 596.9 L472.9 594.4 L473.0 595.0 L473.2 593.0 L473.3 593.5 L473.4 591.3 L473.6 592.1 L473.7 589.7 L473.8 590.1 L474.0 587.9 L474.1 588.6 L474.3 586.5 L474.4 587.1 L474.6 585.2 L474.8 585.5 L474.9 583.2 L475.1 583.7 L475.2 581.6 L475.4 582.1 L475.5 580.2 L475.6 580.5 L475.8 578.7 L475.9 578.9 L476.1 576.7 L476.2 577.2 L476.4 575.1 L476.6 575.9 L476.7 573.3 L476.9 573.8 L477.0 571.7 L477.2 572.4 L477.3 570.6 L477.5 570.7 L477.6 568.8 L477.7 568.9 L477.9 567.0 L478.0 567.8 L478.2 565.6 L478.3 566.1 L478.5 563.7 L478.6 564.1 L478.8 562.0 L478.9 562.8 L479.1 560.4 L479.2 561.2 L479.4 558.9 L479.5 559.4 L479.7 557.2 L479.8 558.2 L480.0 555.6 L480.1 556.2 L480.2 554.1 L480.4 554.7 L480.5 552.8 L480.7 552.8 L480.8 551.3 L481.0 551.3 L481.1 549.6 L481.3 549.9 L481.4 547.7 L481.6 548.3 L481.7 546.2 L481.9 546.8 L482.0 544.7 L482.2 545.0 L482.3 542.8 L482.5 543.4 L482.6 541.6 L482.8 542.1 L482.9 539.6 L483.1 540.2 L483.2 538.2 L483.4 538.7 L483.6 536.5 L483.7 536.9 L483.9 535.3 L484.1 535.3 L484.3 533.2 L484.4 533.6 L484.6 531.8 L484.8 532.1 L484.9 530.3 L485.1 530.4 L485.3 528.6 L485.4 528.8 L485.6 527.2 L485.8 527.2 L486.0 525.6 L486.1 525.8 L486.3 524.0 L486.5 524.0 L486.6 522.2 L486.8 522.6 L487.6 520.8 L488.3 521.6 L489.1 520.3 L489.8 521.1 L490.6 519.8 L491.3 520.7 L492.1 518.9 L492.3 520.6 L492.6 520.3 L492.8 522.2 L493.0 521.7 L493.2 523.8 L493.5 523.6 L493.7 525.2 L493.9 524.7 L494.2 526.9 L494.4 526.2 L494.6 528.5 L494.9 527.7 L495.1 530.0 L495.3 529.7 L495.5 531.5 L495.8 530.8 L496.0 533.3 L496.2 532.7 L496.4 534.5 L496.6 534.1 L496.8 536.7 L497.0 535.8 L497.2 537.7 L497.4 537.7 L497.6 539.3 L497.8 539.2 L498.1 540.9 L498.3 540.9 L498.5 542.9 L498.7 542.0 L498.9 544.2 L499.1 543.5 L499.3 546.0 L499.5 545.2 L499.7 547.9 L499.9 546.7 L500.1 548.9 L500.8 548.4 L501.5 550.2 L502.1 548.8 L502.8 550.7 L503.5 550.2 L504.2 552.1 L504.8 551.2 L505.5 552.7 L506.2 551.9 L506.4 552.5 L506.6 549.9 L506.8 550.6 L507.0 548.4 L507.2 549.4 L507.4 546.8 L507.6 547.6 L507.8 545.1 L508.0 545.9 L508.2 543.8 L508.4 544.2 L508.6 542.0 L508.8 542.8 L509.0 540.7 L509.2 541.0 L509.8 539.0 L510.3 540.0 L510.9 537.6 L511.4 538.5 L512.0 536.5 L512.5 537.0 L513.1 535.0 L513.6 535.6 L514.2 533.8 L514.8 536.0 L515.3 534.8 L515.9 536.7 L516.5 536.2 L517.1 538.3 L517.6 537.1 L518.2 539.5 L518.5 536.7 L518.8 537.6 L519.1 535.1 L519.4 536.3 L519.7 534.0 L520.0 534.5 L520.4 532.6 L520.7 533.0 L521.0 530.4 L521.3 531.2 L521.6 529.2 L521.9 529.6 L522.2 528.0 L522.8 528.6 L523.4 526.6 L524.0 527.0 L524.6 525.5 L525.2 526.2 L525.8 524.0 L526.4 524.6 L527.0 523.1 L527.6 524.1 L528.2 521.9 L528.7 522.6 L529.2 520.5 L529.7 521.5 L530.2 519.1 L530.7 520.2 L531.2 517.9 L531.7 518.5 L532.2 516.9 L532.5 518.6 L532.8 518.0 L533.1 520.2 L533.4 520.1 L533.7 522.4 L534.0 521.6 L534.2 523.9 L534.5 523.2 L534.8 525.2 L535.1 524.7 L535.4 527.0 L535.7 526.0 L536.0 528.5 L536.3 527.5 L536.5 530.3 L536.6 529.5 L536.8 531.8 L537.0 531.1 L537.1 533.1 L537.3 532.5 L537.9 534.9 L538.5 533.7 L539.1 535.8 L539.7 535.1 L540.3 537.2 L540.9 536.2 L541.5 538.1 L542.1 537.7 L542.7 539.6 L543.3 539.1 L543.9 540.9 L544.5 539.8 L545.1 542.0 L545.7 541.1 L546.3 543.3 L547.0 541.5 L547.6 542.2 L548.3 540.1 L549.0 541.3 L549.6 539.6 L550.3 540.3 L551.0 538.8 L551.6 539.4 L552.3 537.4 L553.2 539.7 L554.0 538.1 L554.9 540.4 L555.7 538.8 L556.6 541.0 L557.4 539.4 L558.3 541.2 L559.0 539.9 L559.7 542.4 L560.3 540.8 L561.0 543.0 L561.7 541.8 L562.4 543.8 L563.0 542.5 L563.7 545.1 L564.4 544.5" stroke="#00f" stroke-width="2.3" stroke-dasharray="3.8 3.2"/>
<path d="M114.1 178.6 L115.3 168.4 L118.2 146.5 L121.1 126.1 L129.9 139.2 L137.2 158.2 L144.5 168.4 L147.4 159.6 L151.8 149.4 L163.5 143.6 L167.9 131.9 L172.2 117.3 L175.9 107.8 L180.3 111.6 L183.9 126.1 L187.6 149.4 L191.2 168.4 L198.5 180.1 L207.6 185.7 L212.0 206.8 L214.6 222.6 L218.1 227.8 L225.1 220.8 L232.2 220.8 L234.8 227.8 L237.4 248.9 L240.1 266.5 L242.2 279.3 L245.7 283.7 L250.9 282.8 L258.0 277.6 L261.5 282.8 L265.9 295.1 L270.3 295.1 L271.2 303.9 L277.3 328.5 L282.6 339.1 L286.1 341.7 L289.6 337.3 L297.5 349.6 L299.9 368.8 L304.3 377.6 L305.1 393.4 L309.5 403.9 L316.6 414.5 L318.3 407.4 L326.2 407.4 L328.9 419.7 L329.1 420.5 L329.2 421.3 L329.4 422.1 L329.6 422.9 L329.8 423.6 L329.9 424.4 L330.1 425.2 L330.3 426.0 L330.5 426.8 L330.6 427.6 L330.8 428.4 L331.0 429.2 L331.2 430.0 L331.3 430.8 L331.5 431.5 L331.7 432.3 L331.9 433.1 L332.0 433.9 L332.2 434.7 L332.4 435.5 L332.8 436.2 L333.1 437.0 L333.5 437.7 L333.9 438.6 L334.3 439.3 L334.6 440.1 L335.0 440.8 L335.4 440.1 L335.7 439.3 L336.1 438.6 L336.5 437.7 L336.9 437.0 L337.2 436.2 L337.6 435.5 L337.7 436.3 L337.8 437.1 L337.9 437.9 L338.1 438.8 L338.2 439.5 L338.3 440.4 L338.4 441.1 L338.5 442.0 L338.6 442.7 L338.7 443.6 L338.8 444.3 L339.0 445.3 L339.1 446.0 L339.2 446.9 L339.3 447.6 L339.4 448.5 L339.5 449.2 L339.6 450.1 L339.7 450.8 L339.9 451.7 L340.0 452.4 L340.1 453.3 L340.2 454.1 L340.3 455.0 L341.0 455.3 L341.8 455.9 L342.5 456.3 L343.3 456.9 L344.0 457.3 L344.8 458.0 L345.5 458.3 L345.9 457.8 L346.4 456.9 L346.8 456.4 L347.3 455.5 L347.7 455.0 L348.1 454.1 L348.6 453.6 L349.0 452.7 L349.5 452.2 L349.9 451.3 L350.1 452.3 L350.3 452.9 L350.5 453.9 L350.7 454.6 L350.9 455.5 L351.1 456.2 L351.4 457.2 L351.6 457.7 L351.8 458.8 L352.0 459.3 L352.2 460.4 L352.4 461.0 L352.6 462.0 L353.1 461.0 L353.6 460.6 L354.2 459.7 L354.7 459.3 L355.2 458.3 L355.7 457.9 L356.2 456.9 L356.8 456.4 L357.3 455.5 L357.8 455.0 L358.6 454.9 L359.4 455.3 L360.3 455.1 L361.1 455.4 L361.9 455.4 L362.7 455.7 L363.5 455.5 L364.4 456.0 L365.2 455.8 L366.0 456.1 L366.8 455.9 L367.6 456.4 L368.5 456.2 L369.3 456.6 L370.1 456.5 L370.6 457.4 L371.1 457.7 L371.6 458.7 L372.1 459.1 L372.6 460.1 L373.1 460.3 L373.6 461.5 L374.0 461.7 L374.5 462.7 L375.0 462.8 L375.5 464.0 L376.0 464.1 L376.5 465.3 L377.0 465.5 L377.3 466.7 L377.5 467.2 L377.8 468.3 L378.1 468.7 L378.3 470.0 L378.6 470.1 L378.9 471.5 L379.1 471.9 L379.4 473.0 L379.6 473.4 L379.9 474.6 L380.2 475.0 L380.4 476.3 L380.7 476.6 L381.0 477.7 L381.2 478.0 L381.5 479.4 L381.8 479.6 L382.0 480.9 L382.3 481.2 L382.4 482.6 L382.5 482.8 L382.7 484.2 L382.8 484.4 L382.9 485.7 L383.0 486.1 L383.1 487.4 L383.2 487.5 L383.4 489.1 L383.5 489.3 L383.6 490.6 L383.7 490.8 L383.8 492.2 L383.9 492.4 L384.1 493.8 L384.2 494.0 L384.3 495.4 L384.4 495.7 L384.5 497.1 L384.6 497.1 L384.8 498.5 L384.9 498.7 L385.0 500.3 L385.6 498.9 L386.1 498.7 L386.7 497.6 L387.3 497.5 L387.8 496.2 L388.4 496.3 L389.0 495.1 L389.5 494.9 L390.1 493.7 L390.5 493.6 L390.8 492.2 L391.2 492.2 L391.6 490.9 L392.0 490.5 L392.3 489.2 L392.7 489.1 L393.1 487.7 L393.4 487.6 L393.8 486.3 L394.4 486.5 L395.0 485.1 L395.5 485.3 L396.1 483.9 L396.7 484.0 L397.3 482.8 L397.9 482.9 L398.4 481.6 L399.0 481.9 L399.6 480.6 L400.5 480.9 L401.4 480.1 L402.2 480.2 L403.1 479.3 L404.0 479.7 L404.5 479.6 L405.0 481.1 L405.5 481.1 L406.0 482.3 L406.4 482.2 L406.9 483.7 L407.4 483.8 L407.9 485.1 L408.4 484.8 L409.0 486.1 L409.6 486.1 L410.1 487.4 L410.7 487.1 L411.3 488.5 L411.5 488.7 L411.7 490.1 L412.0 490.0 L412.2 491.6 L412.4 491.9 L412.6 493.3 L412.9 493.2 L413.1 494.9 L413.3 494.9 L413.5 496.6 L413.8 496.3 L414.0 497.8 L414.2 497.9 L414.8 498.1 L415.5 496.8 L416.1 497.0 L416.7 495.5 L417.3 495.8 L418.0 494.4 L418.6 494.6 L419.5 494.0 L420.4 494.9 L421.2 494.5 L422.1 495.6 L423.0 495.1 L423.7 496.6 L424.4 495.9 L425.1 497.2 L425.9 497.1 L426.6 498.4 L427.3 498.0 L427.9 499.5 L428.5 499.1 L429.1 500.4 L429.7 500.4 L430.2 501.9 L430.8 501.5 L431.4 503.0 L432.0 502.4 L432.6 504.1 L433.2 503.7 L434.0 504.9 L434.9 504.2 L435.7 505.5 L436.5 504.6 L437.3 505.9 L438.2 505.1 L439.0 506.4 L439.5 504.4 L440.0 505.0 L440.5 503.3 L441.0 503.4 L441.4 501.9 L441.9 502.3 L442.4 500.6 L442.9 500.9 L443.4 499.6 L444.0 500.8 L444.7 500.5 L445.3 502.1 L445.9 501.6 L446.5 503.4 L447.2 503.0 L447.8 504.6 L448.1 504.4 L448.3 506.1 L448.6 506.1 L448.9 508.1 L449.1 507.8 L449.4 509.6 L449.6 509.4 L449.9 511.0 L450.2 511.1 L450.4 512.5 L450.7 512.2 L451.4 514.1 L452.1 513.0 L452.9 514.8 L453.6 513.7 L454.3 515.2 L455.1 514.6 L455.8 516.1 L456.5 515.3 L456.8 517.5 L457.2 516.8 L457.5 519.1 L457.9 518.7 L458.2 520.5 L458.5 519.9 L458.9 522.1 L459.2 521.5 L459.5 523.7 L459.9 523.3 L460.2 525.3 L460.6 524.8 L460.9 526.7 L461.7 525.5 L462.6 527.2 L463.4 526.3 L464.3 527.4 L465.1 526.7 L466.0 528.0 L466.8 526.7 L467.4 527.8 L467.9 525.8 L468.5 526.2 L469.0 524.2 L469.6 524.8 L470.1 523.1 L471.0 524.0 L471.9 523.3 L472.7 524.3 L473.6 523.0 L474.5 524.4 L475.4 523.2 L476.3 524.6 L477.1 523.0 L478.0 524.1 L478.9 523.3 L479.5 525.2 L480.1 523.9 L480.7 526.3 L481.3 525.3 L481.8 527.1 L482.4 526.8 L483.0 528.2 L483.6 527.9 L484.2 529.8 L484.9 528.6 L485.5 530.9 L486.1 530.3 L486.8 531.8 L487.5 531.4 L488.1 533.4 L488.8 532.4 L489.6 534.1 L490.3 532.8 L491.0 534.6 L491.7 533.4 L492.5 535.2 L493.2 534.4 L493.9 535.9 L494.6 535.4 L495.4 536.5 L496.1 535.9 L497.0 537.2 L497.8 536.7 L498.7 538.4 L499.5 537.1 L500.4 538.9 L501.2 537.4 L502.1 539.3 L502.8 537.3 L503.6 538.8 L504.3 536.5 L505.0 537.9 L505.8 535.9 L506.5 537.2 L507.3 535.1 L508.0 536.3 L508.7 534.5 L509.5 535.3 L510.2 533.5 L510.8 534.7 L511.4 533.1 L512.1 533.5 L512.7 531.5 L513.3 532.5 L514.0 530.8 L514.6 531.8 L515.2 529.5 L515.8 530.6 L516.5 528.8 L517.1 529.6 L517.7 528.0 L518.3 528.9 L519.0 527.0 L519.6 528.0 L520.2 525.9 L521.0 526.7 L521.8 525.0 L522.6 526.8 L523.4 525.0 L524.2 526.2 L525.0 524.5 L525.8 525.9 L526.6 524.3 L527.4 525.6 L528.2 523.3 L528.6 526.0 L529.1 524.8 L529.5 527.6 L529.9 526.6 L530.4 529.0 L530.8 527.7 L531.2 530.3 L531.7 529.7 L532.1 531.7 L532.6 530.6 L533.0 532.9 L533.4 532.2 L533.9 534.8 L534.3 533.7 L535.0 535.4 L535.6 534.6 L536.3 536.4 L537.0 535.3 L537.6 537.6 L538.3 536.6 L539.0 538.6 L539.6 537.2 L540.3 539.1 L541.2 537.8 L542.0 540.1 L542.9 538.3 L543.7 540.7 L544.6 539.1 L545.4 541.1 L546.3 539.7 L547.0 540.8 L547.6 538.5 L548.3 539.8 L549.0 538.3 L549.6 539.2 L550.3 537.1 L551.0 538.2 L551.6 536.1 L552.3 537.1 L553.1 536.2 L553.9 537.3 L554.7 536.2 L555.5 538.3 L556.3 536.6 L557.1 538.2 L557.9 536.8 L558.7 539.1 L559.5 537.6 L560.3 538.9 L560.9 538.0 L561.6 540.3 L562.2 539.2 L562.8 540.9 L563.5 540.1 L564.1 541.9 L564.8 541.3 L565.4 542.5" stroke="#000" stroke-width="1.5" stroke-dasharray="3.8 3.2"/>
<path d="M114.4 281.7 L121.4 289.2 L129.3 264.1 L136.4 222.8 L143.4 194.2 L149.5 193.3 L155.3 196.0 L160.9 190.7 L166.2 173.1 L170.6 166.1 L176.8 178.4 L180.3 189.8 L182.9 195.1 L188.2 190.7 L192.6 197.7 L197.8 213.5 L201.4 224.6 L205.7 237.2 L208.4 236.9 L211.5 233.4 L213.7 250.1 L218.0 254.5 L221.6 268.5 L222.8 272.3 L226.4 316.2 L229.9 337.3 L236.9 333.8 L243.0 340.8 L246.6 354.9 L250.6 380.3 L255.9 365.4 L256.6 368.9 L265.5 323.2 L269.4 344.3 L272.0 347.0 L277.3 376.8 L281.7 371.6 L284.0 374.2 L288.4 393.4 L292.0 428.5 L300.0 469.9 L302.9 458.2 L308.0 447.2 L310.2 452.3 L314.6 455.3 L319.0 469.9 L324.1 487.4 L329.2 481.5 L329.4 480.7 L329.6 479.9 L329.8 479.1 L330.0 478.3 L330.2 477.5 L330.4 476.8 L330.6 476.0 L330.8 475.2 L331.0 474.4 L331.2 473.6 L331.4 472.8 L331.5 472.0 L331.7 471.2 L331.8 470.4 L332.0 469.6 L332.1 468.8 L332.3 468.0 L332.4 467.3 L332.6 466.5 L332.8 465.7 L332.9 464.9 L333.1 464.1 L333.2 463.3 L333.3 462.5 L333.5 461.7 L333.6 460.9 L333.8 460.1 L333.9 459.4 L334.1 458.5 L334.2 457.8 L334.4 457.0 L334.6 456.2 L334.7 455.4 L334.9 454.6 L335.0 453.8 L335.3 453.1 L335.5 452.2 L335.8 451.5 L336.0 450.7 L336.3 450.0 L336.6 449.2 L336.8 448.4 L337.1 447.6 L337.3 446.9 L337.6 446.1 L337.8 445.3 L338.1 444.5 L338.4 443.8 L338.6 443.0 L338.9 442.3 L339.1 441.4 L339.4 440.7 L339.8 440.0 L340.1 439.3 L340.5 438.5 L340.9 437.8 L341.2 437.0 L341.6 436.4 L342.0 435.6 L342.4 434.9 L342.7 434.1 L343.1 433.4 L343.8 432.8 L344.6 432.4 L345.3 431.8 L345.4 432.8 L345.5 433.5 L345.6 434.4 L345.8 435.1 L345.9 436.0 L346.0 436.7 L346.1 437.6 L346.2 438.3 L346.4 439.3 L346.5 440.0 L346.6 440.9 L346.7 441.5 L346.8 442.5 L346.9 443.2 L347.0 444.1 L347.2 444.8 L347.3 445.8 L347.4 446.5 L347.5 447.4 L347.6 448.0 L347.7 449.0 L347.8 449.7 L348.0 450.7 L348.1 451.3 L348.2 452.2 L348.3 452.9 L348.4 453.9 L348.5 454.6 L348.6 455.5 L348.7 456.2 L348.8 457.1 L349.0 457.8 L349.1 458.7 L349.2 459.4 L349.3 460.3 L349.4 461.0 L349.5 462.0 L349.6 462.7 L349.7 463.6 L349.8 464.2 L350.0 465.2 L350.1 465.9 L350.2 466.8 L350.3 467.5 L350.4 468.5 L350.7 469.1 L350.9 470.1 L351.2 470.8 L351.5 471.7 L351.7 472.4 L352.0 473.3 L352.2 473.9 L352.5 474.9 L352.8 475.5 L353.0 476.5 L353.3 477.1 L353.9 476.7 L354.5 475.9 L355.0 475.5 L355.6 474.7 L356.2 474.3 L356.4 475.0 L356.6 476.0 L356.8 476.6 L357.1 477.7 L357.3 478.3 L357.5 479.4 L357.7 480.0 L357.8 479.4 L357.9 478.4 L358.1 477.8 L358.2 476.8 L358.3 476.1 L358.4 475.1 L358.6 474.6 L358.7 473.5 L358.8 472.9 L358.9 471.9 L359.0 471.3 L359.2 470.3 L359.3 469.6 L359.4 468.6 L359.5 468.1 L359.7 467.0 L359.8 466.5 L359.9 465.4 L360.1 464.8 L360.3 463.8 L360.5 463.2 L360.8 462.2 L361.0 461.6 L361.2 460.6 L361.4 460.0 L361.6 458.9 L361.8 458.4 L362.0 457.4 L362.3 456.8 L362.5 455.7 L362.7 455.2 L362.9 454.2 L363.1 453.6 L363.3 452.5 L363.6 452.0 L363.8 450.9 L364.0 450.4 L364.2 449.2 L364.5 448.8 L364.7 447.7 L365.0 447.2 L365.2 446.2 L365.5 445.7 L365.8 444.7 L366.0 444.2 L366.3 443.0 L366.5 442.6 L366.8 441.5 L367.0 441.1 L367.3 440.0 L367.6 439.5 L367.8 438.5 L368.1 438.0 L368.3 436.9 L368.6 436.4 L369.0 435.4 L369.3 435.0 L369.7 433.9 L370.1 433.5 L370.4 432.4 L370.8 432.0 L371.1 431.0 L371.5 430.5 L372.1 430.8 L372.7 431.8 L373.3 432.0 L373.9 433.0 L374.5 433.3 L374.7 434.3 L374.9 434.9 L375.0 436.1 L375.2 436.5 L375.4 437.7 L375.6 438.1 L375.8 439.2 L375.9 439.8 L376.1 440.9 L376.3 441.5 L376.5 442.5 L376.7 443.1 L376.9 444.2 L377.0 444.7 L377.2 445.8 L377.4 446.3 L378.1 447.2 L378.9 447.4 L379.6 448.4 L380.3 448.6 L380.9 449.7 L381.5 450.0 L382.0 451.0 L382.6 451.4 L383.2 452.5 L384.1 452.6 L385.0 453.4 L385.2 453.7 L385.4 454.8 L385.7 455.2 L385.9 456.4 L386.1 456.8 L386.3 458.0 L386.6 458.4 L386.8 459.8 L387.0 459.9 L387.2 461.2 L387.5 461.5 L387.7 462.9 L387.9 463.2 L388.3 464.3 L388.6 464.6 L389.0 465.8 L389.4 466.0 L389.8 467.4 L390.1 467.5 L390.5 468.7 L390.9 468.9 L391.2 470.1 L391.6 470.6 L392.2 470.2 L392.8 469.0 L393.3 468.6 L393.9 467.5 L394.5 467.3 L394.7 467.6 L394.9 468.8 L395.1 469.2 L395.3 470.3 L395.5 470.6 L395.7 471.9 L395.9 472.1 L396.2 473.6 L396.4 473.8 L396.6 475.1 L396.8 475.3 L397.0 476.7 L397.2 477.0 L397.4 478.2 L397.5 478.4 L397.7 479.9 L397.8 480.2 L397.9 481.5 L398.0 481.9 L398.2 483.1 L398.3 483.4 L398.4 484.6 L398.5 484.9 L398.7 486.4 L398.8 486.7 L398.9 487.9 L399.1 488.2 L399.2 489.6 L399.3 489.7 L399.4 491.1 L399.6 491.5 L399.7 492.6 L399.8 492.9 L400.0 494.3 L400.1 494.6 L400.2 495.9 L400.3 496.2 L400.5 497.6 L400.6 497.8 L400.7 499.1 L400.8 499.4 L401.0 500.7 L401.1 501.0 L401.8 501.9 L402.6 501.8 L403.3 502.7 L404.0 502.5 L404.7 503.4 L405.4 503.2 L406.2 504.2 L406.9 504.1 L407.6 504.8 L408.4 504.7 L409.1 505.8 L409.8 505.3 L410.0 505.2 L410.2 504.0 L410.4 503.7 L410.6 502.3 L410.8 502.1 L411.0 500.7 L411.2 500.6 L411.3 499.2 L411.5 499.1 L411.7 497.6 L411.9 497.4 L412.1 495.9 L412.3 495.8 L412.5 494.5 L412.7 494.4 L413.0 493.0 L413.2 492.8 L413.5 491.2 L413.7 491.1 L414.0 489.8 L414.2 489.6 L414.5 488.0 L414.7 487.8 L415.0 486.5 L415.2 486.3 L415.5 484.9 L415.8 484.7 L416.0 483.4 L416.3 483.1 L416.5 481.6 L416.8 481.4 L417.0 480.2 L417.3 480.0 L417.5 478.4 L417.8 478.4 L418.1 478.6 L418.3 480.0 L418.6 479.9 L418.9 481.6 L419.2 481.6 L419.4 482.9 L419.7 483.1 L420.0 484.6 L420.3 484.7 L420.5 486.4 L420.8 486.3 L421.1 487.7 L421.4 488.1 L421.8 489.6 L422.1 489.7 L422.4 491.1 L422.7 491.3 L423.1 492.6 L423.4 492.8 L423.7 494.2 L424.4 494.5 L425.2 495.8 L425.9 496.0 L426.5 495.8 L427.1 494.7 L427.6 494.9 L428.2 493.4 L428.8 493.5 L429.1 493.7 L429.4 495.1 L429.7 495.2 L430.1 496.8 L430.4 496.7 L430.7 498.3 L431.0 498.5 L431.3 500.0 L431.6 500.1 L431.9 501.5 L432.3 501.5 L432.6 503.2 L432.9 503.0 L433.2 504.6 L433.8 504.7 L434.3 506.1 L434.8 506.2 L435.4 507.7 L436.1 506.2 L436.8 506.2 L437.6 505.1 L438.3 505.1 L439.0 503.7 L439.4 505.2 L439.7 505.2 L440.1 506.8 L440.5 506.9 L440.9 508.3 L441.2 508.3 L441.6 509.6 L442.0 509.6 L442.3 511.1 L442.7 511.0 L442.8 512.7 L443.0 512.8 L443.1 514.5 L443.2 514.6 L443.4 516.1 L443.5 516.2 L443.7 517.5 L443.8 517.5 L443.9 519.4 L444.1 519.5 L444.2 520.8 L444.3 520.8 L444.5 522.7 L444.6 522.5 L444.8 524.1 L444.9 524.3 L445.1 525.8 L445.3 526.0 L445.5 527.4 L445.7 527.4 L445.9 528.9 L446.1 529.0 L446.3 530.4 L446.4 530.4 L446.6 532.2 L446.8 532.0 L447.0 533.7 L447.2 533.5 L447.4 535.3 L447.6 535.2 L447.8 536.8 L448.1 536.7 L448.3 538.3 L448.6 538.4 L448.9 539.7 L449.1 539.9 L449.4 541.2 L449.7 541.2 L449.9 542.9 L450.2 542.8 L450.5 544.3 L450.7 544.4 L451.0 546.2 L451.3 545.9 L451.5 547.5 L451.8 547.5 L452.1 548.9 L452.3 549.1 L452.6 550.5 L452.9 550.6 L453.1 552.1 L453.4 551.9 L453.7 553.5 L454.0 553.7 L454.2 555.1 L454.5 555.2 L454.8 556.6 L455.0 556.7 L455.3 558.2 L455.6 558.4 L455.8 560.0 L456.1 559.7 L456.4 561.5 L456.6 561.1 L456.9 562.9 L457.2 562.8 L457.4 564.6 L457.7 564.4 L458.0 566.0 L458.2 565.9 L458.5 567.5 L458.8 567.2 L459.0 568.8 L459.3 569.0 L459.6 570.3 L459.8 570.5 L460.1 571.9 L460.4 572.0 L460.6 573.8 L460.9 573.5 L461.2 575.0 L461.5 575.0 L461.7 576.6 L462.0 576.4 L462.3 578.3 L462.5 578.2 L462.8 579.6 L463.1 579.5 L463.3 581.4 L463.6 581.0 L463.9 582.8 L464.1 582.4 L464.4 584.1 L464.7 584.4 L465.0 586.0 L465.2 585.7 L465.5 587.2 L465.8 587.2 L466.0 589.1 L466.3 588.8 L466.6 590.4 L466.8 590.5 L467.1 591.8 L467.4 591.7 L467.7 593.5 L467.9 593.2 L468.2 594.9 L468.5 595.0 L468.7 596.4 L469.0 596.5 L469.3 596.4 L469.6 595.0 L469.9 595.1 L470.3 593.5 L470.6 593.4 L470.9 592.1 L471.2 592.3 L471.5 590.5 L471.8 590.6 L472.2 588.9 L472.5 589.1 L472.8 587.5 L473.1 587.4 L473.4 586.0 L473.7 586.0 L474.1 584.1 L474.4 584.5 L474.7 582.6 L475.0 582.8 L475.2 581.4 L475.4 581.4 L475.6 579.6 L475.7 579.8 L475.9 578.1 L476.1 578.3 L476.3 576.3 L476.5 576.8 L476.7 574.9 L476.8 575.0 L477.0 573.1 L477.2 573.3 L477.4 571.9 L477.6 571.8 L477.8 570.3 L477.9 570.4 L478.1 568.3 L478.3 568.6 L478.5 567.1 L478.7 566.9 L478.9 565.4 L479.0 565.3 L479.2 563.8 L479.4 563.9 L479.6 562.2 L479.8 562.1 L480.0 560.4 L480.1 560.5 L480.3 559.1 L480.5 559.0 L480.7 557.4 L480.9 557.3 L481.1 555.8 L481.2 555.9 L481.4 554.1 L481.6 554.4 L481.8 552.4 L482.0 552.8 L482.2 550.9 L482.3 551.2 L482.5 549.4 L482.7 549.7 L482.9 547.7 L483.0 548.2 L483.1 546.1 L483.2 546.5 L483.3 544.7 L483.4 545.0 L483.5 543.1 L483.6 543.0 L483.8 541.6 L483.9 541.5 L484.0 540.0 L484.1 540.1 L484.2 538.3 L484.3 538.2 L484.4 536.5 L484.5 536.9 L484.6 535.3 L484.7 535.0 L484.8 533.6 L484.9 533.6 L485.0 531.7 L485.1 532.3 L485.2 530.2 L485.4 530.3 L485.5 528.7 L485.6 528.8 L485.7 527.2 L485.8 527.1 L485.9 525.5 L486.0 525.8 L486.1 523.8 L486.8 525.1 L487.6 524.6 L488.3 525.8 L489.0 525.3 L489.7 526.7 L490.5 525.9 L491.2 527.6 L491.9 527.0 L492.6 528.1 L493.4 527.3 L494.1 528.9 L494.9 527.6 L495.6 528.2 L496.4 526.8 L497.1 527.8 L497.9 526.2 L498.6 527.1 L499.4 525.5 L500.1 526.1 L500.9 524.7 L501.6 525.5 L502.4 524.4 L503.1 525.2 L503.7 523.6 L504.4 524.0 L505.0 522.4 L505.6 523.1 L506.3 521.4 L506.9 521.8 L507.6 520.5 L508.2 520.8 L509.1 519.6 L509.9 520.4 L510.8 519.1 L511.6 519.9 L512.5 518.8 L513.3 519.5 L514.1 518.0 L515.0 519.3 L515.8 517.4 L516.5 518.3 L517.3 516.8 L518.0 517.2 L518.8 515.7 L519.5 516.5 L520.3 515.2 L520.5 515.1 L520.7 513.6 L520.9 513.7 L521.1 511.5 L521.3 511.8 L521.5 510.0 L521.7 510.3 L521.9 508.4 L522.1 508.9 L522.3 506.8 L522.5 507.3 L522.7 505.4 L522.9 505.3 L523.1 503.7 L523.2 504.0 L523.4 502.3 L523.6 502.3 L523.8 500.6 L523.9 500.5 L524.1 499.1 L524.3 499.1 L524.4 497.4 L524.6 497.7 L525.1 496.0 L525.7 496.4 L526.2 494.4 L526.8 495.0 L527.3 493.1 L528.0 493.6 L528.8 492.1 L529.5 492.7 L530.3 491.2 L531.0 491.6 L531.8 490.1 L532.5 490.5 L533.2 489.3 L533.9 489.5 L534.6 488.6 L535.4 488.7 L536.1 487.5 L536.8 487.9 L537.5 486.6 L538.2 486.9 L538.4 485.3 L538.6 485.3 L538.9 483.9 L539.1 483.7 L539.3 482.3 L539.5 482.3 L539.7 480.7 L540.0 480.8 L540.2 479.2 L540.4 479.2 L540.7 477.7 L541.1 477.6 L541.4 476.3 L541.8 476.1 L542.1 474.6 L542.3 474.4 L542.4 473.0 L542.6 472.9 L542.7 471.6 L542.9 471.2 L543.1 470.0 L543.2 469.7 L543.4 468.4 L543.5 468.3 L543.7 466.7 L543.9 466.7 L544.0 465.3 L544.2 465.0 L544.3 463.7 L544.5 463.5 L544.6 462.1 L544.8 461.9 L545.0 460.5 L545.1 460.3 L545.3 459.1 L545.4 458.7 L545.6 457.4 L545.9 457.3 L546.3 456.0 L546.6 455.7 L547.0 454.2 L547.3 454.0 L547.7 452.9 L548.0 452.5 L548.4 451.1 L548.7 451.1 L548.7 449.6 L548.8 449.3 L548.8 448.0 L548.9 447.7 L548.9 446.3 L549.0 446.1 L549.0 444.8 L549.0 444.5 L549.1 443.0 L549.1 442.8 L549.2 441.7 L549.2 441.2 L549.9 440.3 L550.7 440.4 L551.4 439.5 L551.8 439.1 L552.1 437.8 L552.5 437.6 L552.9 436.1 L553.3 436.0 L553.6 434.7 L554.0 434.3 L554.2 432.8 L554.3 432.8 L554.5 431.4 L554.7 431.1 L554.8 429.7 L555.0 429.5 L555.2 428.1 L555.4 427.9 L555.5 426.4 L555.7 426.2 L555.9 424.9 L556.0 424.5 L556.2 423.3 L556.7 424.4 L557.2 424.7 L557.8 425.9 L558.3 426.1 L558.8 427.3 L559.1 425.8 L559.3 425.6 L559.6 424.0 L559.8 423.8 L560.1 422.2 L560.6 422.3 L561.1 420.8 L561.7 420.8 L562.2 419.5 L562.7 419.1 L563.2 418.0 L564.0 418.9 L564.8 419.1 L565.5 420.1 L566.3 420.4" stroke="#00f" stroke-width="2.4"/>
</g>
<rect x="114.05" y="9.50" width="533.10" height="710.35" fill="none" stroke="#000" stroke-width="2.4"/>
<path d="M113.7 140.9 L114.0 140.9 L116.7 141.7 L119.4 142.6 L122.0 143.5 L124.7 144.5 L127.4 145.5 L130.0 146.6 L132.7 147.7 L135.4 149.0 L138.0 150.2 L140.7 151.6 L143.4 153.0 L146.0 154.5 L148.7 156.0 L151.4 157.7 L154.0 159.4 L156.7 161.2 L159.4 163.0 L162.0 165.0 L164.7 167.1 L167.4 169.2 L170.0 171.4 L172.7 173.7 L175.4 176.1 L178.0 178.6 L180.7 181.2 L183.4 183.9 L186.0 186.6 L188.7 189.5 L191.3 192.4 L194.0 195.4 L196.7 198.5 L199.3 201.7 L202.0 205.0 L204.7 208.4 L207.3 211.8 L210.0 215.4 L212.7 219.0 L215.3 222.6 L218.0 226.4 L220.7 230.2 L223.3 234.1 L226.0 238.0 L228.7 242.0 L231.3 246.1 L234.0 250.2 L236.7 254.4 L239.3 258.6 L242.0 262.8 L244.7 267.2 L247.3 271.5 L250.0 275.9 L252.7 280.3 L255.3 284.8 L258.0 289.2 L260.7 293.7 L263.3 298.3 L266.0 302.8 L268.6 307.4 L271.3 312.0 L274.0 316.6 L276.6 321.2 L279.3 325.8 L282.0 330.4 L284.6 335.0 L287.3 339.6 L290.0 344.2 L292.6 348.8 L295.3 353.4 L298.0 358.0 L300.6 362.5 L303.3 367.1 L306.0 371.6 L308.6 376.1 L311.3 380.5 L314.0 385.0 L316.6 389.4 L319.3 393.7 L322.0 398.1 L324.6 402.4 L327.3 406.6 L330.0 410.8 L332.6 414.9 L335.3 419.0 L338.0 423.1 L340.6 427.0 L343.3 430.9 L345.9 434.8 L348.6 438.6 L351.3 442.3 L353.9 445.9 L356.6 449.4 L359.3 452.9 L361.9 456.3 L364.6 459.6 L367.3 462.9 L369.9 466.0 L372.6 469.1 L375.3 472.1 L377.9 475.0 L380.6 477.8 L383.3 480.5 L385.9 483.1 L388.6 485.6 L391.3 488.1 L393.9 490.4 L396.6 492.7 L399.3 494.9 L401.9 496.9 L404.6 498.9 L407.3 500.9 L409.9 502.7 L412.6 504.4 L415.3 506.1 L417.9 507.7 L420.6 509.2 L423.2 510.7 L425.9 512.0 L428.6 513.3 L431.2 514.6 L433.9 515.8 L436.6 516.9 L439.2 517.9 L441.9 518.9 L444.6 519.9 L447.2 520.7 L449.9 521.6 L452.6 522.4 L455.2 523.1 L457.9 523.8 L460.6 524.5 L463.2 525.1 L465.9 525.7 L468.6 526.2 L471.2 526.8 L473.9 527.2 L476.6 527.7 L479.2 528.1 L481.9 528.5 L484.6 528.9 L487.2 529.3 L489.9 529.6 L492.6 529.9 L495.2 530.2 L497.9 530.5 L500.5 530.7 L503.2 531.0 L505.9 531.2 L508.5 531.4 L511.2 531.6 L513.9 531.8 L516.5 532.0 L519.2 532.1 L521.9 532.3 L524.5 532.4 L527.2 532.5 L529.9 532.7 L532.5 532.8 L535.2 532.9 L537.9 533.0 L540.5 533.1 L543.2 533.2 L545.9 533.2 L548.5 533.3 L551.2 533.4 L553.9 533.5 L556.5 533.5 L559.2 533.6 L561.9 533.6 L564.5 533.7 L567.2 533.7 L569.9 533.8 L572.5 533.8 L575.2 533.9 L577.8 533.9 L580.5 533.9 L583.2 534.0 L585.8 534.0 L588.5 534.0 L591.2 534.0 L593.8 534.1 L596.5 534.1 L599.2 534.1 L601.8 534.1 L604.5 534.1 L607.2 534.2 L609.8 534.2 L612.5 534.2 L615.2 534.2 L617.8 534.2 L620.5 534.2 L623.2 534.2 L625.8 534.2 L628.5 534.3 L631.2 534.3 L633.8 534.3 L636.5 534.3 L639.2 534.3 L641.8 534.3 L644.5 534.3 L647.1 534.3" stroke="#ee0000" stroke-width="4.4" fill="none" stroke-linejoin="round"/>
<text class="h" x="100.6" y="17.0" font-size="21.7" text-anchor="end">10000</text>
<text class="h" x="98.8" y="194.4" font-size="21.7" text-anchor="end">1000</text>
<text class="h" x="98.8" y="372.1" font-size="21.7" text-anchor="end">100</text>
<text class="h" x="98.6" y="549.3" font-size="21.7" text-anchor="end">10</text>
<text class="h" x="98.2" y="727.3" font-size="21.7" text-anchor="end">1</text>
<text class="h" x="100.0" y="752.5" font-size="21.7">0.1</text>
<text class="h" x="157.2" y="752.5" font-size="21.7">0.2</text>
<text class="h" x="231.2" y="752.5" font-size="21.7">0.5</text>
<text class="h" x="296.6" y="752.5" font-size="21.7">1</text>
<text class="h" x="351.2" y="752.5" font-size="21.7">2</text>
<text class="h" x="422.5" y="752.5" font-size="21.7">5</text>
<text class="h" x="472.8" y="752.5" font-size="21.7">10</text>
<text class="h" x="527.2" y="752.5" font-size="21.7">20</text>
<text class="h" x="599.5" y="752.5" font-size="21.7">50</text>
<text class="h" x="650.0" y="752.5" font-size="21.7">100</text>
<text class="h" x="386.2" y="791.5" font-size="25.3" text-anchor="middle">Frequency[Hz]</text>
<text class="h" transform="translate(18.1 357.6) rotate(-90)" font-size="25.3" text-anchor="middle">Spectral Ratio</text>
<text class="t" x="485.6" y="77" font-size="23.7">f<tspan dy="7.4" font-size="14" stroke-width="0.12">ca</tspan><tspan dy="-7.4">=3.31</tspan></text>
<text class="t" x="485.6" y="105.2" font-size="23.7">f<tspan dy="7.4" font-size="14" stroke-width="0.12">cm</tspan><tspan dy="-7.4">=0.24</tspan></text>
<text class="t" x="485.6" y="133.4" font-size="23.7">M<tspan dy="7.4" font-size="14" stroke-width="0.12">0</tspan><tspan dy="-7.4">/m</tspan><tspan dy="7.4" font-size="14" stroke-width="0.12">0</tspan><tspan dy="-7.4">=2138.39</tspan></text>
<path d="M131.6 563.7 H190.9" stroke="#222" stroke-width="2.2"/>
<path d="M131.6 595.1 H190.9" stroke="#00f" stroke-width="3" stroke-dasharray="6.2 3.65"/>
<path d="M131.6 631.4 H190.9" stroke="#1a1a1a" stroke-width="2.9" stroke-dasharray="6.2 3.65"/>
<path d="M131.6 664.3 H190.9" stroke="#00f" stroke-width="4.3"/>
<rect x="130" y="693.8" width="63.3" height="11.6" fill="#c3c3c3"/>
<text class="t" x="202.4" y="572.6" font-size="27" textLength="42.9" lengthAdjust="spacingAndGlyphs">G045</text>
<text class="t" x="204.6" y="602.8" font-size="27" textLength="42.7" lengthAdjust="spacingAndGlyphs">D126</text>
<text class="t" x="202.4" y="637.5" font-size="27" textLength="42.1" lengthAdjust="spacingAndGlyphs">G033</text>
<text class="t" x="202.4" y="675.0" font-size="27" textLength="40.9" lengthAdjust="spacingAndGlyphs">C121</text>
<text class="t" x="198.8" y="705.7" font-size="25.1">Average</text>
</svg></body></html>
